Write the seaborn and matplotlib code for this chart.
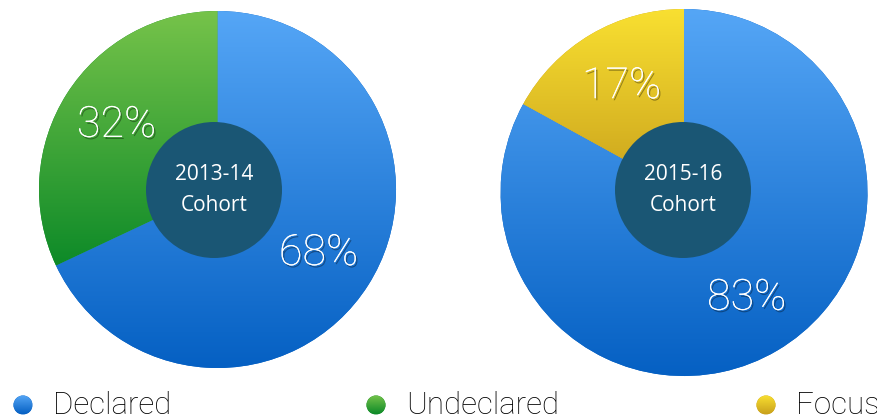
import matplotlib
matplotlib.use("Agg")
import matplotlib.pyplot as plt
import matplotlib.patheffects as pe
from matplotlib.colors import LinearSegmentedColormap
from matplotlib.patches import Circle
import numpy as np
import seaborn as sns

# Chart data
COHORTS = ["2013-14\nCohort", "2015-16\nCohort"]
LEFT_LABELS = ["Declared", "Undeclared"]
LEFT_SHARES = [68, 32]
RIGHT_LABELS = ["Declared", "Focus"]
RIGHT_SHARES = [83, 17]
LEGEND_LABELS = ["Declared", "Undeclared", "Focus"]

# top -> bottom gradient colours per category
GRADIENTS = {
    "Declared": ("#55a6f6", "#0560c3"),
    "Undeclared": ("#76c34a", "#0d8a28"),
    "Focus": ("#f9e031", "#c9a11c"),
}
HOLE_COLOR = "#1a5674"

sns.set_style("white")
plt.rcParams["font.family"] = ["Roboto", "DejaVu Sans"]

W, H = 878, 420
fig = plt.figure(figsize=(W / 100, H / 100), dpi=100)
ax = fig.add_axes([0, 0, 1, 1])
ax.set_xlim(0, W)
ax.set_ylim(0, H)
ax.axis("off")

shadow = [pe.withSimplePatchShadow(offset=(1.2, -1.5), shadow_rgbFace="black", alpha=0.35),
          pe.Normal()]


def gradient_fill(ax, patch, top, bottom, z=2):
    # paint a vertical gradient inside the patch bounding box, clipped to it
    ext = patch.get_extents().transformed(ax.transData.inverted())
    cmap = LinearSegmentedColormap.from_list("g", [bottom, top])
    grad = np.linspace(0, 1, 256).reshape(-1, 1)
    im = ax.imshow(grad, cmap=cmap, origin="lower", aspect="auto",
                   extent=(ext.x0, ext.x1, ext.y0, ext.y1), zorder=z)
    im.set_clip_path(patch)


def draw_pie(ax, shares, labels, center, radius, hole_center, title):
    wedges, texts = ax.pie(shares, center=center, radius=radius, startangle=90,
                           counterclock=False, frame=True,
                           wedgeprops={"linewidth": 0})
    ax.set_xlim(0, W)
    ax.set_ylim(0, H)
    for w, lab in zip(wedges, labels):
        top, bottom = GRADIENTS[lab]
        w.set_facecolor(bottom)
        gradient_fill(ax, w, top, bottom)
    # percent labels
    for w, share in zip(wedges, shares):
        ang = np.deg2rad((w.theta1 + w.theta2) / 2)
        r = radius * 0.67
        x = center[0] + r * np.cos(ang)
        y = center[1] + r * np.sin(ang)
        ax.text(x, y, f"{share}%", color="white", fontsize=31, fontweight="light",
                ha="center", va="center", zorder=5, path_effects=shadow)
    ax.add_patch(Circle(hole_center, 68, color=HOLE_COLOR, zorder=4, lw=0))
    ax.text(hole_center[0], hole_center[1], title, color="white", fontsize=15,
            family=["Open Sans", "DejaVu Sans"], ha="center", va="center",
            linespacing=1.6, zorder=5)


draw_pie(ax, LEFT_SHARES, LEFT_LABELS, (217.5, H - 189.5), 178.5, (214, H - 190), COHORTS[0])
draw_pie(ax, RIGHT_SHARES, RIGHT_LABELS, (684, H - 192.5), 183.5, (683, H - 190), COHORTS[1])

# legend along the bottom
legend_x = [23, 376, 766]
for lx, lab in zip(legend_x, LEGEND_LABELS):
    top, bottom = GRADIENTS[lab]
    c = Circle((lx, H - 405), 9.5, color=bottom, lw=0, zorder=1)
    ax.add_patch(c)
    gradient_fill(ax, c, top, bottom, z=2)
    ax.text(lx + 30, H - 405, lab, fontsize=22.5, fontweight="light", color="black",
            ha="left", va="center")

ax.set_xlim(0, W)
ax.set_ylim(0, H)
fig.savefig("out.png", dpi=100)
